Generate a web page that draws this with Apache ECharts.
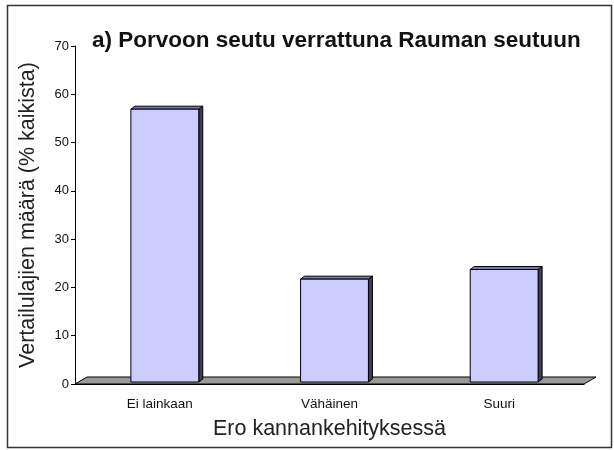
<!DOCTYPE html>
<html>
<head>
<meta charset="utf-8">
<script src="https://cdn.jsdelivr.net/npm/echarts@6/dist/echarts.min.js"></script>
<style>
  html, body { margin: 0; padding: 0; background: #fff; }
  #chart { width: 614px; height: 450px; }
</style>
</head>
<body>
<div id="chart"></div>
<script>
// data
const categories = ["Ei lainkaan", "Vähäinen", "Suuri"];
const values = [56.5, 21.3, 23.3];
const yTicks = [0, 10, 20, 30, 40, 50, 60, 70];

const FONT = "Liberation Sans, Arial, sans-serif";
// 3D look (pixels)
const floorDepth = [12, -7];
const barShift = [5, -2];   // bars stand in middle of the floor
const barDepth = [4, -3];

const chart = echarts.init(document.getElementById("chart"));

function renderBar(params, api) {
  const top = api.coord([api.value(0), api.value(1)]);
  const base = api.coord([api.value(0), 0]);
  const w = api.size([1, 0])[0] * 0.4;
  const x0 = top[0] - w / 2 + barShift[0];
  const x1 = x0 + w;
  const y0 = top[1] + barShift[1];
  const y1 = base[1] + barShift[1];
  const dx = barDepth[0], dy = barDepth[1];
  const stroke = { stroke: "#000", lineWidth: 1 };
  return {
    type: "group",
    children: [
      // side face
      { type: "polygon", shape: { points: [[x1, y0], [x1 + dx, y0 + dy], [x1 + dx, y1 + dy], [x1, y1]] },
        style: Object.assign({ fill: "#3c3c5c" }, stroke) },
      // top face
      { type: "polygon", shape: { points: [[x0, y0], [x0 + dx, y0 + dy], [x1 + dx, y0 + dy], [x1, y0]] },
        style: Object.assign({ fill: "#7a7aa6" }, stroke) },
      // front face
      { type: "rect", shape: { x: x0, y: y0, width: w, height: y1 - y0 },
        style: Object.assign({ fill: "#ccccff" }, stroke) }
    ]
  };
}

function renderFloor(params, api) {
  const cs = params.coordSys;
  const y = api.coord([0, 0])[1];
  const xl = cs.x, xr = cs.x + cs.width;
  const dx = floorDepth[0], dy = floorDepth[1];
  return {
    type: "polygon",
    shape: { points: [[xl, y], [xl + dx, y + dy], [xr + dx, y + dy], [xr, y]] },
    style: { fill: "#999999", stroke: "#000", lineWidth: 1 }
  };
}

const option = {
  animation: false,
  backgroundColor: "#fff",
  graphic: [{
    type: "rect", silent: true,
    shape: { x: 7.5, y: 5.5, width: 604, height: 442 },
    style: { fill: "none", stroke: "#333", lineWidth: 1.5 }
  }],
  title: {
    text: "a) Porvoon seutu verrattuna Rauman seutuun",
    left: 87, top: 24,
    textStyle: { fontFamily: FONT, fontWeight: "bold", fontSize: 22.5, color: "#111" }
  },
  grid: { left: 75, right: 30, top: 46, bottom: 66 },
  xAxis: {
    type: "category",
    data: categories,
    name: "Ero kannankehityksessä",
    nameLocation: "middle",
    nameGap: 34,
    nameTextStyle: { fontFamily: FONT, fontSize: 21.5, color: "#222" },
    axisLine: { lineStyle: { color: "#000", width: 1 } },
    axisTick: { length: 5, lineStyle: { color: "#000" } },
    axisLabel: { fontFamily: FONT, fontSize: 13.5, color: "#111", margin: 13 },
    z: 1
  },
  yAxis: {
    type: "value",
    min: 0, max: 70, interval: 10,
    name: "Vertailulajien määrä (% kaikista)",
    nameLocation: "middle",
    nameGap: 36,
    nameTextStyle: { fontFamily: FONT, fontSize: 21.5, color: "#222" },
    axisLine: { show: true, lineStyle: { color: "#000", width: 1 } },
    axisTick: { show: true, length: 4, lineStyle: { color: "#000" } },
    axisLabel: {
      fontFamily: FONT, fontSize: 13, color: "#111", margin: 6,
      formatter: v => (yTicks.indexOf(v) >= 0 ? String(v) : "")
    },
    splitLine: { show: false }
  },
  series: [
    { type: "custom", renderItem: renderFloor, data: [[0]], z: 2, silent: true },
    {
      type: "custom",
      renderItem: renderBar,
      encode: { x: 0, y: 1 },
      data: categories.map((c, i) => [i, values[i]]),
      z: 3
    }
  ]
};

chart.setOption(option);
window.addEventListener("resize", () => chart.resize());
</script>
</body>
</html>
